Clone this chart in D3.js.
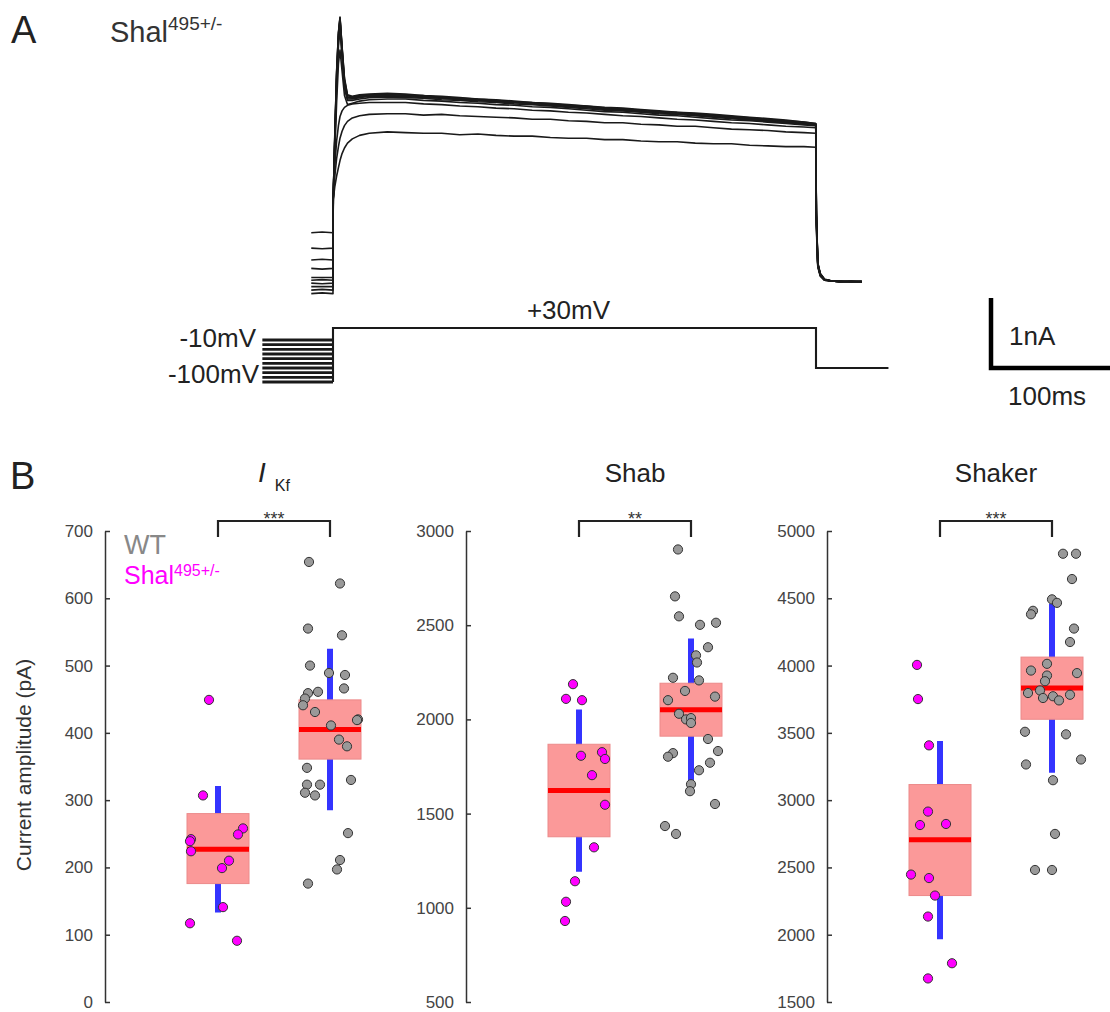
<!DOCTYPE html>
<html>
<head>
<meta charset="utf-8">
<script src="https://cdn.jsdelivr.net/npm/d3@7"></script>
<style>
  html, body { margin: 0; padding: 0; background: #fff; }
  svg { display: block; font-family: "Liberation Sans", Arial, Helvetica, sans-serif; }
</style>
</head>
<body>
<svg id="fig" width="1110" height="1012"></svg>
<script>
// ---------- Panel A: voltage-clamp sweeps ----------
const prepulseMv = [-100, -90, -80, -70, -60, -50, -40, -30, -20, -10];
const stepMv = 30;
const holdMv = -70;
const protocolMs = [-58.5, 0, 400, 460]; // prepulse start, step on, step off, sweep end

const sweepTimeMs = [-18, -9, 0, 0.2, 1.5, 3, 4.5, 5.8, 7.5, 9.5, 12, 16, 22, 30,
  45, 60, 75, 90, 105, 120, 135, 150, 165, 180, 195, 210, 225, 240, 255, 270, 285, 300, 315, 330, 345, 360, 375, 390,
  399.8, 400.3, 401.5, 403.5, 407, 413, 420, 429, 438];

// one current trace (nA) per prepulse, in the order of prepulseMv
const sweepCurrentNa = [
  [0.02, 0.03, 0.02, 1.38, 2.30, 3.20, 3.75, 3.97, 3.55, 3.10, 2.86, 2.84, 2.86, 2.87,
   2.88, 2.87, 2.85, 2.84, 2.82, 2.80, 2.79, 2.77, 2.75, 2.74, 2.72, 2.70, 2.68, 2.67, 2.65, 2.63, 2.61, 2.60, 2.58, 2.56, 2.54, 2.52, 2.50, 2.47,
   2.45, 1.20, 0.45, 0.30, 0.22, 0.20, 0.19, 0.20, 0.19],
  [0.07, 0.08, 0.07, 1.39, 2.28, 3.18, 3.74, 3.96, 3.54, 3.08, 2.85, 2.83, 2.85, 2.86,
   2.87, 2.85, 2.85, 2.82, 2.81, 2.80, 2.78, 2.76, 2.75, 2.73, 2.71, 2.70, 2.67, 2.66, 2.64, 2.62, 2.61, 2.59, 2.57, 2.55, 2.53, 2.51, 2.49, 2.47,
   2.45, 1.18, 0.46, 0.31, 0.23, 0.20, 0.20, 0.19, 0.19],
  [0.12, 0.12, 0.12, 1.40, 2.25, 3.15, 3.72, 3.95, 3.52, 3.05, 2.83, 2.82, 2.84, 2.85,
   2.86, 2.86, 2.83, 2.83, 2.80, 2.79, 2.77, 2.76, 2.73, 2.72, 2.70, 2.69, 2.66, 2.65, 2.63, 2.62, 2.60, 2.58, 2.56, 2.55, 2.52, 2.50, 2.48, 2.46,
   2.44, 1.15, 0.44, 0.30, 0.22, 0.20, 0.19, 0.20, 0.19],
  [0.17, 0.16, 0.17, 1.38, 2.22, 3.10, 3.68, 3.93, 3.50, 3.02, 2.82, 2.81, 2.83, 2.85,
   2.85, 2.84, 2.83, 2.81, 2.80, 2.78, 2.77, 2.75, 2.74, 2.71, 2.70, 2.68, 2.66, 2.64, 2.63, 2.61, 2.59, 2.58, 2.55, 2.54, 2.52, 2.50, 2.47, 2.46,
   2.44, 1.17, 0.45, 0.30, 0.22, 0.20, 0.20, 0.19, 0.20],
  [0.21, 0.22, 0.21, 1.40, 2.20, 3.05, 3.64, 3.90, 3.46, 3.00, 2.80, 2.80, 2.82, 2.84,
   2.84, 2.84, 2.82, 2.81, 2.79, 2.78, 2.76, 2.75, 2.73, 2.71, 2.69, 2.68, 2.65, 2.64, 2.62, 2.60, 2.59, 2.57, 2.55, 2.53, 2.51, 2.49, 2.47, 2.45,
   2.43, 1.14, 0.44, 0.30, 0.22, 0.20, 0.19, 0.19, 0.20],
  [0.25, 0.25, 0.25, 1.39, 2.15, 2.95, 3.55, 3.80, 3.38, 2.95, 2.78, 2.78, 2.80, 2.82,
   2.83, 2.82, 2.81, 2.79, 2.78, 2.76, 2.75, 2.73, 2.72, 2.70, 2.68, 2.66, 2.64, 2.63, 2.61, 2.59, 2.58, 2.56, 2.54, 2.52, 2.50, 2.48, 2.46, 2.44,
   2.43, 1.12, 0.43, 0.29, 0.22, 0.20, 0.19, 0.19, 0.19],
  [0.38, 0.37, 0.38, 1.38, 2.05, 2.75, 3.30, 3.50, 3.20, 2.85, 2.72, 2.74, 2.77, 2.79,
   2.80, 2.80, 2.78, 2.77, 2.75, 2.74, 2.72, 2.71, 2.69, 2.68, 2.66, 2.64, 2.62, 2.61, 2.59, 2.57, 2.56, 2.54, 2.52, 2.50, 2.49, 2.47, 2.45, 2.43,
   2.42, 1.10, 0.43, 0.29, 0.22, 0.20, 0.20, 0.19, 0.19],
  [0.50, 0.51, 0.50, 1.38, 1.85, 2.20, 2.42, 2.55, 2.63, 2.68, 2.71, 2.73, 2.74, 2.75,
   2.75, 2.75, 2.73, 2.72, 2.70, 2.69, 2.67, 2.66, 2.64, 2.63, 2.61, 2.60, 2.58, 2.56, 2.55, 2.53, 2.51, 2.50, 2.48, 2.46, 2.45, 2.43, 2.41, 2.40,
   2.39, 1.05, 0.42, 0.28, 0.21, 0.20, 0.19, 0.20, 0.19],
  [0.67, 0.66, 0.67, 1.37, 1.70, 1.95, 2.12, 2.24, 2.34, 2.42, 2.48, 2.53, 2.56, 2.58,
   2.59, 2.59, 2.57, 2.58, 2.56, 2.55, 2.54, 2.53, 2.51, 2.51, 2.49, 2.48, 2.46, 2.46, 2.44, 2.43, 2.41, 2.41, 2.39, 2.37, 2.36, 2.35, 2.33, 2.32,
   2.31, 1.00, 0.41, 0.28, 0.21, 0.20, 0.19, 0.19, 0.19],
  [0.89, 0.90, 0.89, 1.36, 1.55, 1.70, 1.82, 1.92, 2.02, 2.10, 2.17, 2.23, 2.28, 2.31,
   2.33, 2.32, 2.31, 2.31, 2.29, 2.30, 2.28, 2.27, 2.27, 2.25, 2.24, 2.24, 2.22, 2.22, 2.20, 2.19, 2.19, 2.17, 2.16, 2.16, 2.14, 2.13, 2.12, 2.12,
   2.11, 0.95, 0.40, 0.27, 0.21, 0.20, 0.19, 0.19, 0.19]
];

const scaleBarMs = 100;
const scaleBarNa = 1;

// ---------- Panel B: current amplitudes (pA) ----------
const currentNames = ["IKf", "Shab", "Shaker"];
const groupNames = ["Shal", "WT"];
const significance = ["***", "**", "***"];

const ikfTicks = [0, 100, 200, 300, 400, 500, 600, 700];
const shabTicks = [500, 1000, 1500, 2000, 2500, 3000];
const shakerTicks = [1500, 2000, 2500, 3000, 3500, 4000, 4500, 5000];

// box summaries: [whisker low, q1, median, q3, whisker high]
const ikfShalBox = [133, 176, 227, 280, 321];
const ikfWTBox = [285, 361, 405, 449, 525];
const shabShalBox = [1192, 1377, 1623, 1868, 2053];
const shabWTBox = [1670, 1911, 2051, 2192, 2430];
const shakerShalBox = [1966, 2291, 2706, 3116, 3439];
const shakerWTBox = [3204, 3601, 3833, 4063, 4460];

// individual cells and their horizontal scatter (jitter units, -31..31)
const ikfShal = [449, 307, 242, 239, 224, 258, 249, 210, 199, 141, 117, 91];
const ikfShalJitter = [-9, -15, -27, -28, -27, 25, 20, 11, 4, 5, -28, 19];
const ikfWT = [654, 622, 555, 545, 500, 489, 486, 466, 461, 459, 451, 441, 431, 420, 419, 411, 390, 380, 348, 330, 323, 323, 311, 307, 251, 211, 197, 176];
const ikfWTJitter = [-21, 10, -22, 12, -20, -1, 15, 14, -12, -22, -25, -27, -15, 28, 27, 1, 9, 17, -23, 21, -23, -10, -25, -15, 18, 10, 7, -22];

const shabShal = [2187, 2109, 2102, 1807, 1826, 1790, 1704, 1547, 1321, 1141, 1032, 930];
const shabShalJitter = [-6, -13, 3, 2, 23, 26, 13, 26, 15, -4, -13, -14];
const shabWT = [2902, 2653, 2547, 2502, 2513, 2383, 2340, 2302, 2221, 2207, 2151, 2121, 2102, 2030, 2000, 2007, 1981, 1896, 1821, 1802, 1832, 1770, 1730, 1656, 1619, 1551, 1434, 1392];
const shabWTJitter = [-13, -16, -12, 9, 25, 17, 5, 6, -18, 8, -6, 24, -23, -12, -5, 0, 0, 17, -18, -23, 27, 19, 8, 0, -1, 24, -26, -15];

const shakerShal = [4005, 3751, 3407, 2915, 2815, 2823, 2447, 2421, 2291, 2135, 1788, 1675];
const shakerShalJitter = [-23, -22, -11, -12, -20, 6, -29, -11, -5, -12, 12, -12];
const shakerWT = [4831, 4831, 4643, 4492, 4466, 4407, 4381, 4275, 4175, 4013, 3963, 3944, 3926, 3884, 3796, 3815, 3783, 3759, 3772, 3741, 3508, 3489, 3302, 3265, 3148, 2749, 2481, 2481];
const shakerWTJitter = [11, 24, 20, 0, 5, -19, -21, 22, 18, -5, -21, 25, -5, -7, -24, -12, 18, -9, 1, 7, -27, 14, 29, -26, 1, 3, -17, 0];

// ---------- drawing ----------
const svg = d3.select("#fig");
const ink = "#1a1a1a";

svg.append("rect").attr("width", 1110).attr("height", 1012).attr("fill", "#fff");

// panel letters
svg.append("text").attr("x", 11).attr("y", 43).attr("font-size", 38).attr("fill", "#222").text("A");
svg.append("text").attr("x", 10).attr("y", 489).attr("font-size", 38).attr("fill", "#222").text("B");

// ----- Panel A -----
const tScale = d3.scaleLinear().domain([0, 400]).range([333, 816]);
const iScale = d3.scaleLinear().domain([0, 1]).range([295, 225]);
const vScale = d3.scaleLinear().domain([-100, -10, 30]).range([382, 340, 328]);

const gA = svg.append("g");

const titleA = gA.append("text").attr("x", 110).attr("y", 42).attr("fill", "#333");
titleA.append("tspan").attr("font-size", 29).text("Shal");
titleA.append("tspan").attr("font-size", 19).attr("dy", -12).text("495+/-");

const traceLine = d3.line()
  .x((d, i) => tScale(sweepTimeMs[i]))
  .y(d => iScale(d));

gA.append("g").selectAll("path")
  .data(sweepCurrentNa)
  .join("path")
  .attr("d", traceLine)
  .attr("fill", "none")
  .attr("stroke", ink)
  .attr("stroke-width", 1.6)
  .attr("stroke-linejoin", "round");

// voltage protocol: thick prepulse levels, then the common step
const vLine = d3.line().x(d => tScale(d[0])).y(d => vScale(d[1]));
const prepulsePaths = prepulseMv.map(v => [[protocolMs[0], v], [protocolMs[1], v]]);
gA.append("g").selectAll("path")
  .data(prepulsePaths)
  .join("path")
  .attr("d", vLine)
  .attr("fill", "none")
  .attr("stroke", ink)
  .attr("stroke-width", 2.8);
const stepPath = [
  [protocolMs[1], d3.min(prepulseMv)], [protocolMs[1], stepMv],
  [protocolMs[2], stepMv], [protocolMs[2], holdMv], [protocolMs[3], holdMv]
];
gA.append("path")
  .attr("d", vLine(stepPath))
  .attr("fill", "none")
  .attr("stroke", ink)
  .attr("stroke-width", 2.1);

gA.append("text").attr("x", tScale(195)).attr("y", 319).attr("text-anchor", "middle")
  .attr("font-size", 26).attr("fill", "#222").text("+30mV");
gA.append("text").attr("x", 256).attr("y", 347).attr("text-anchor", "end")
  .attr("font-size", 26).attr("fill", "#222").text("-10mV");
gA.append("text").attr("x", 259).attr("y", 383).attr("text-anchor", "end")
  .attr("font-size", 26).attr("fill", "#222").text("-100mV");

// scale bar
const barX = 991, barY = 368;
const barW = tScale(scaleBarMs) - tScale(0);
const barH = iScale(0) - iScale(scaleBarNa);
gA.append("path")
  .attr("d", `M${barX},${barY - barH}V${barY}H${barX + barW}`)
  .attr("fill", "none").attr("stroke", "#000").attr("stroke-width", 4.5);
gA.append("text").attr("x", 1009).attr("y", 345).attr("font-size", 26).attr("fill", "#222").text(scaleBarNa + "nA");
gA.append("text").attr("x", 1008).attr("y", 405).attr("font-size", 26).attr("fill", "#222").text(scaleBarMs + "ms");

// ----- Panel B -----
const panels = [
  { ticks: ikfTicks, shal: ikfShal, shalJ: ikfShalJitter, wt: ikfWT, wtJ: ikfWTJitter, shalBox: ikfShalBox, wtBox: ikfWTBox, axisX: 105 },
  { ticks: shabTicks, shal: shabShal, shalJ: shabShalJitter, wt: shabWT, wtJ: shabWTJitter, shalBox: shabShalBox, wtBox: shabWTBox, axisX: 466 },
  { ticks: shakerTicks, shal: shakerShal, shalJ: shakerShalJitter, wt: shakerWT, wtJ: shakerWTJitter, shalBox: shakerShalBox, wtBox: shakerWTBox, axisX: 827 }
];

const boxHalf = 31;
const jitter = d3.scaleLinear().domain([-31, 31]).range([-boxHalf, boxHalf]);
const groupFill = { Shal: "#ff00ff", WT: "#999999" };

panels.forEach((p, k) => {
  const g = svg.append("g");
  const y = d3.scaleLinear().domain(d3.extent(p.ticks)).range([1002, 531]);
  const x = d3.scalePoint().domain(groupNames).range([p.axisX + 113, p.axisX + 225]);

  // axis
  const ax = g.append("g")
    .attr("transform", `translate(${p.axisX},0)`)
    .call(d3.axisLeft(y).tickValues(p.ticks).tickSizeInner(-5).tickSizeOuter(0).tickPadding(12).tickFormat(d3.format("d")));
  ax.select(".domain").attr("stroke", "#333").attr("stroke-width", 1.5);
  ax.selectAll(".tick line").attr("stroke", "#333").attr("stroke-width", 1.5);
  ax.selectAll(".tick text").attr("font-size", 17).attr("fill", "#444")
    .attr("font-family", "'Liberation Sans', Arial, sans-serif");

  // title
  const cx = (x("Shal") + x("WT")) / 2;
  const title = g.append("text").attr("x", cx).attr("y", 482).attr("text-anchor", "middle")
    .attr("font-size", 26).attr("fill", "#222");
  if (currentNames[k] === "IKf") {
    title.append("tspan").attr("font-style", "italic").attr("font-size", 28).text("I");
    title.append("tspan").attr("font-size", 16).attr("dx", 9).attr("dy", 9).text("Kf");
  } else {
    title.text(currentNames[k]);
  }

  // significance bracket
  const bTop = 521, bLeg = 537;
  g.append("path")
    .attr("d", `M${x("Shal")},${bLeg}V${bTop}H${x("WT")}V${bLeg}`)
    .attr("fill", "none").attr("stroke", "#222").attr("stroke-width", 2.2);
  g.append("text").attr("x", cx).attr("y", 525).attr("text-anchor", "middle")
    .attr("font-size", 18).attr("fill", "#333").text(significance[k]);

  const groups = [
    { name: "Shal", box: p.shalBox, vals: p.shal, jit: p.shalJ },
    { name: "WT", box: p.wtBox, vals: p.wt, jit: p.wtJ }
  ];

  groups.forEach(gr => {
    const c = x(gr.name);
    const [lo, q1, med, q3, hi] = gr.box;
    g.append("line").attr("x1", c).attr("x2", c).attr("y1", y(lo)).attr("y2", y(hi))
      .attr("stroke", "#3434ff").attr("stroke-width", 6);
    g.append("rect").attr("x", c - boxHalf).attr("width", 2 * boxHalf)
      .attr("y", y(q3)).attr("height", y(q1) - y(q3))
      .attr("fill", "#fb9999").attr("stroke", "#ec8a8a").attr("stroke-width", 1);
    g.append("line").attr("x1", c - boxHalf).attr("x2", c + boxHalf).attr("y1", y(med)).attr("y2", y(med))
      .attr("stroke", "#ff0000").attr("stroke-width", 5);
  });

  groups.forEach(gr => {
    const c = x(gr.name);
    g.append("g").selectAll("circle")
      .data(gr.vals)
      .join("circle")
      .attr("cx", (d, i) => c + jitter(gr.jit[i]))
      .attr("cy", d => y(d))
      .attr("r", 4.6)
      .attr("fill", groupFill[gr.name])
      .attr("stroke", "#333")
      .attr("stroke-width", 1);
  });

  if (k === 0) {
    g.append("text").attr("x", 124).attr("y", 554).attr("font-size", 27).attr("fill", "#888").text("WT");
    const lg = g.append("text").attr("x", 124).attr("y", 584).attr("fill", "#ff00ff");
    lg.append("tspan").attr("font-size", 25).text("Shal");
    lg.append("tspan").attr("font-size", 16).attr("dy", -8).text("495+/-");
  }
});

// shared y label
svg.append("text")
  .attr("transform", "translate(31,765) rotate(-90)")
  .attr("text-anchor", "middle")
  .attr("font-size", 21)
  .attr("fill", "#333")
  .text("Current amplitude (pA)");
</script>
</body>
</html>
